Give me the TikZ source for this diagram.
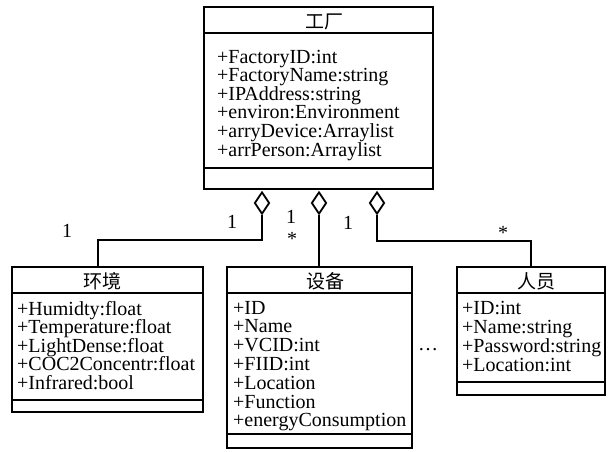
\documentclass[tikz,border=0pt]{standalone}
\usepackage{fontspec}
\setmainfont{Liberation Serif}
\newfontfamily\cjk{Noto Sans CJK SC}
\usetikzlibrary{shapes.geometric}
\tikzset{
  cls/.style={draw, line width=1.8pt, anchor=north west, inner sep=0pt, outer sep=0pt},
  sepline/.style={line width=1.8pt},
  conn/.style={line width=1.8pt},
  attr/.style={anchor=base west, inner sep=0pt, font=\fontsize{20}{18.6}\selectfont},
  ttl/.style={anchor=base, inner sep=0pt, font=\cjk\fontsize{19}{20}\selectfont},
  mult/.style={anchor=base, inner sep=0pt, font=\fontsize{20}{20}\selectfont},
  agg/.style={diamond, draw, line width=1.8pt, minimum width=15pt, minimum height=22pt, inner sep=0pt, fill=white}
}
\begin{document}
\begin{tikzpicture}[x=1pt,y=-1pt]
\useasboundingbox (0,0) rectangle (610,451);
\fill[white] (0,0) rectangle (610,451);
% factory
\node[cls, minimum width=229pt, minimum height=182pt] (fac) at (204,7) {};
\draw[sepline] (fac.west |- 0,33) -- (fac.east |- 0,33);
\draw[sepline] (fac.west |- 0,168) -- (fac.east |- 0,168);
\node[ttl] (factitle) at (324,28) {工厂};
\foreach \t [count=\i] in {+FactoryID:int,+FactoryName:string,+IPAddress:string,+environ:Environment,+arryDevice:Arraylist,+arrPerson:Arraylist}
  \node[attr] (fa\i) at (217,{63+18.6*(\i-1)}) {\t};
% environment
\node[cls, minimum width=191pt, minimum height=145pt] (env) at (12,267) {};
\draw[sepline] (env.west |- 0,293) -- (env.east |- 0,293);
\draw[sepline] (env.west |- 0,400) -- (env.east |- 0,400);
\node[ttl] (envtitle) at (102,288) {环境};
\foreach \t [count=\i] in {+Humidty:float,+Temperature:float,+LightDense:float,+COC2Concentr:float,+Infrared:bool}
  \node[attr] (ea\i) at (17,{315+18.6*(\i-1)}) {\t};
% device
\node[cls, minimum width=185pt, minimum height=181pt] (dev) at (227,267) {};
\draw[sepline] (dev.west |- 0,293) -- (dev.east |- 0,293);
\draw[sepline] (dev.west |- 0,434) -- (dev.east |- 0,434);
\node[ttl] (devtitle) at (325,288) {设备};
\foreach \t [count=\i] in {+ID,+Name,+VCID:int,+FIID:int,+Location,+Function,+energyConsumption}
  \node[attr] (da\i) at (233,{314+18.8*(\i-1)}) {\t};
% person
\node[cls, minimum width=148pt, minimum height=128pt] (per) at (457,267) {};
\draw[sepline] (per.west |- 0,293) -- (per.east |- 0,293);
\draw[sepline] (per.west |- 0,382) -- (per.east |- 0,382);
\node[ttl] (pertitle) at (536,288) {人员};
\foreach \t [count=\i] in {+ID:int,+Name:string,+Password:string,+Location:int}
  \node[attr] (pa\i) at (462,{314+19*(\i-1)}) {\t};
% ellipsis
\node[mult] (dots) at (428,350) {\dots};
% aggregation diamonds
\node[agg] (d1) at (262,203) {};
\node[agg] (d2) at (319,203) {};
\node[agg] (d3) at (377,203) {};
\coordinate (envtop) at (98,267);
\coordinate (pertop) at (531,267);
\draw[conn] (d1.south) -- ++(0,25) -| (envtop);
\draw[conn] (d2.south) -- (d2.south |- dev.north);
\draw[conn] (d3.south) -- ++(0,26) -| (pertop);
% multiplicities
\node[mult] (m1) at (67,237) {1};
\node[mult] (m2) at (232,228) {1};
\node[mult] (m3) at (291,223) {1};
\node[mult] (m4) at (292,245) {*};
\node[mult] (m5) at (348,229) {1};
\node[mult] (m6) at (503,239) {*};
\end{tikzpicture}
\end{document}
